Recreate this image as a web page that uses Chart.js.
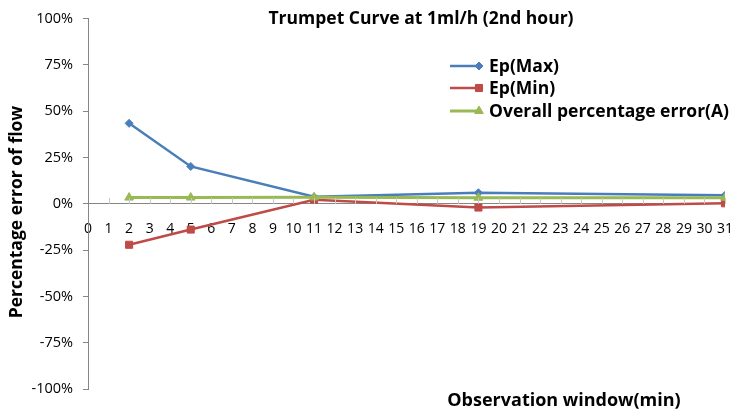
<!DOCTYPE html>
<html>
<head>
<meta charset="utf-8">
<script src="https://cdn.jsdelivr.net/npm/chart.js@4.4.0/dist/chart.umd.min.js"></script>
<style>
  body { margin: 0; background: #fff; }
</style>
</head>
<body>
<canvas id="myChart" width="740" height="412"></canvas>
<script>
var chartTitle = "Trumpet Curve at 1ml/h (2nd hour)";
var xTitle = "Observation window(min)";
var yTitle = "Percentage error of flow";
var windows = [2, 5, 11, 19, 31];
var epMax = [43.5, 20.2, 3.8, 6.0, 4.6];
var epMin = [-22.1, -13.9, 2.2, -2.0, 0.3];
var overall = [3.4, 3.4, 3.5, 3.3, 3.3];
var seriesNames = ["Ep(Max)", "Ep(Min)", "Overall percentage error(A)"];
var seriesColors = ["#4a7ebb", "#be4b48", "#98b954"];
var markers = ["rectRot", "rect", "triangle"];
var lineWidths = [2.5, 2.5, 3];

function pts(vals) {
  return windows.map(function (w, i) { return { x: w, y: vals[i] }; });
}

var font = "'Open Sans', sans-serif";

var extras = {
  id: "extras",
  afterDraw: function (chart) {
    var ctx = chart.ctx;
    var xs = chart.scales.x, ys = chart.scales.y;
    var y0 = ys.getPixelForValue(0);
    ctx.save();
    // small upward tick marks on the x axis
    ctx.strokeStyle = "#c8c8c8";
    ctx.lineWidth = 1;
    for (var v = 1; v <= 31; v++) {
      var px = Math.round(xs.getPixelForValue(v)) + 0.5;
      ctx.beginPath();
      ctx.moveTo(px, y0 - 6);
      ctx.lineTo(px, y0);
      ctx.stroke();
    }
    // title
    ctx.fillStyle = "#000";
    ctx.textAlign = "center";
    ctx.textBaseline = "middle";
    ctx.font = "bold 17.5px " + font;
    ctx.fillText(chartTitle, 421, 19);
    // x title
    ctx.font = "bold 18px " + font;
    ctx.fillText(xTitle, 564, 401);
    // y title
    ctx.save();
    ctx.translate(17, 212);
    ctx.rotate(-Math.PI / 2);
    ctx.font = "bold 17.5px " + font;
    ctx.fillText(yTitle, 0, 0);
    ctx.restore();
    // legend
    ctx.textAlign = "left";
    ctx.font = "bold 17.5px " + font;
    var ly = [66, 88, 111];
    seriesNames.forEach(function (name, i) {
      ctx.strokeStyle = seriesColors[i];
      ctx.fillStyle = seriesColors[i];
      ctx.lineWidth = lineWidths[i];
      ctx.beginPath();
      ctx.moveTo(450, ly[i]);
      ctx.lineTo(481, ly[i]);
      ctx.stroke();
      ctx.lineWidth = 1;
      Chart.helpers.drawPoint(ctx, {
        pointStyle: markers[i], radius: i === 0 ? 4 : 5, borderWidth: 1
      }, 479, ly[i]);
      ctx.fillStyle = "#000";
      ctx.fillText(name, 489, ly[i] + 1);
    });
    ctx.restore();
  }
};

Chart.defaults.font.family = font;

var datasets = [epMax, epMin, overall].map(function (vals, i) {
  return {
    label: seriesNames[i],
    data: pts(vals),
    borderColor: seriesColors[i],
    backgroundColor: seriesColors[i],
    pointStyle: markers[i],
    pointRadius: i === 0 ? 4 : 5,
    pointBorderWidth: 1,
    borderWidth: lineWidths[i],
    tension: 0,
    order: 3 - i
  };
});

new Chart("myChart", {
  type: "line",
  data: { datasets: datasets },
  options: {
    responsive: false,
    animation: false,
    layout: { padding: { left: 0, top: 17, right: 15, bottom: 23 } },
    plugins: {
      legend: { display: false },
      title: { display: false },
      tooltip: { enabled: false }
    },
    scales: {
      x: {
        type: "linear",
        position: { y: 0 },
        min: 0, max: 31,
        ticks: { stepSize: 1, color: "#000", font: { size: 14 }, padding: 7, maxRotation: 0, autoSkip: false },
        grid: { display: true, drawOnChartArea: false, tickLength: 10, tickColor: "rgba(0,0,0,0)" },
        border: { color: "#868686", width: 1 }
      },
      y: {
        min: -100, max: 100,
        afterFit: function (s) { s.width = 88; },
        ticks: {
          stepSize: 25, color: "#000", font: { size: 14.5 }, padding: 10,
          callback: function (v) { return v + "%"; }
        },
        grid: { display: true, drawOnChartArea: false, tickLength: 5, tickColor: "#868686" },
        border: { color: "#868686", width: 1 }
      }
    }
  },
  plugins: [extras]
});
</script>
</body>
</html>
